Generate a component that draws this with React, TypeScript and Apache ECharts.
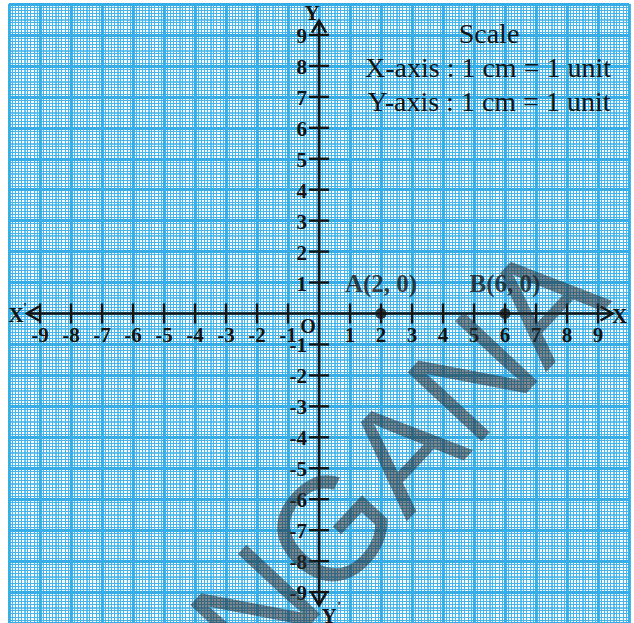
import React, { useEffect, useRef } from 'react';
import * as echarts from 'echarts';

// ---- data ----
const gridMin = -10;
const gridMax = 10;
const xTicks = [-9, -8, -7, -6, -5, -4, -3, -2, -1, 1, 2, 3, 4, 5, 6, 7, 8, 9];
const yTicks = [9, 8, 7, 6, 5, 4, 3, 2, 1, -1, -2, -3, -4, -5, -6, -7, -8, -9];
const xAxisEnds = [-9.42, 9.47];
const yAxisEnds = [-9.42, 9.46];
const pointNames = ['A', 'B'];
const pointX = [2, 6];
const pointY = [0, 0];
const scaleLines = ['Scale', 'X-axis : 1 cm = 1 unit', 'Y-axis : 1 cm = 1 unit'];
const watermarkText = 'NGANA';

const SERIF = '"Liberation Serif", "Times New Roman", serif';
const INK = '#141414';

export default function App() {
  const ref = useRef<HTMLDivElement>(null);
  useEffect(() => {
    if (!ref.current) return;
    const chart = echarts.init(ref.current, undefined, { renderer: 'svg' });

    const fineAxis = (pos: string) => ({
      type: 'value',
      min: gridMin,
      max: gridMax,
      interval: 0.5,
      position: pos,
      axisLine: { show: false },
      axisTick: { show: false },
      axisLabel: { show: false },
      splitLine: { show: true, lineStyle: { color: '#3AB0E8', width: 1.5 } },
      minorTick: { show: false, splitNumber: 5 },
      minorSplitLine: { show: true, lineStyle: { color: '#47B5EA', width: 1.1 } },
      z: 0,
    });
    const majorAxis = (pos: string) => ({
      type: 'value',
      min: gridMin,
      max: gridMax,
      interval: 1,
      position: pos,
      axisLine: { show: false },
      axisTick: { show: false },
      axisLabel: { show: false },
      splitLine: { show: true, lineStyle: { color: '#36ADE6', width: 2.8 } },
      z: 1,
    });

    const tickFont = { fontFamily: SERIF, fontWeight: 'bold', fontSize: 21 } as any;

    const option: any = {
      animation: false,
      backgroundColor: '#ffffff',
      grid: { left: 9, top: 4, width: 620, height: 620 },
      xAxis: [fineAxis('bottom'), majorAxis('top')],
      yAxis: [fineAxis('left'), majorAxis('right')],
      series: [
        {
          type: 'custom',
          name: 'xTicks',
          xAxisIndex: 0,
          yAxisIndex: 0,
          z: 5,
          data: xTicks.map((v) => [v, 0]),
          renderItem: (params: any, api: any) => {
            const p = api.coord([api.value(0), api.value(1)]);
            return {
              type: 'group',
              children: [
                {
                  type: 'line',
                  shape: { x1: p[0], y1: p[1] - 10, x2: p[0], y2: p[1] + 10 },
                  style: { stroke: INK, lineWidth: 2.4 },
                },
                {
                  type: 'text',
                  style: {
                    text: String(api.value(0)),
                    x: p[0],
                    y: p[1] + 21,
                    fill: INK,
                    ...tickFont,
                    align: 'center',
                    verticalAlign: 'middle',
                    textAlign: 'center',
                    textVerticalAlign: 'middle',
                  },
                },
              ],
            };
          },
        },
        {
          type: 'custom',
          name: 'yTicks',
          xAxisIndex: 0,
          yAxisIndex: 0,
          z: 5,
          data: yTicks.map((v) => [0, v]),
          renderItem: (params: any, api: any) => {
            const p = api.coord([api.value(0), api.value(1)]);
            return {
              type: 'group',
              children: [
                {
                  type: 'line',
                  shape: { x1: p[0] - 10, y1: p[1], x2: p[0] + 10, y2: p[1] },
                  style: { stroke: INK, lineWidth: 2.4 },
                },
                {
                  type: 'text',
                  style: {
                    text: String(api.value(1)),
                    x: p[0] - 12,
                    y: p[1] + 1,
                    fill: INK,
                    ...tickFont,
                    align: 'right',
                    verticalAlign: 'middle',
                    textAlign: 'right',
                    textVerticalAlign: 'middle',
                  },
                },
              ],
            };
          },
        },
        {
          type: 'custom',
          name: 'axes',
          xAxisIndex: 0,
          yAxisIndex: 0,
          z: 6,
          data: [[0, 0]],
          renderItem: (params: any, api: any) => {
            const o = api.coord([0, 0]);
            const xl = api.coord([xAxisEnds[0], 0]);
            const xr = api.coord([xAxisEnds[1], 0]);
            const yb = api.coord([0, yAxisEnds[0]]);
            const yt = api.coord([0, yAxisEnds[1]]);
            const st = { stroke: INK, lineWidth: 2.6, fill: 'none' };
            const txt = (text: string, x: number, y: number, size: number, align = 'center') => ({
              type: 'text',
              style: {
                text,
                x,
                y,
                fill: INK,
                fontFamily: SERIF,
                fontWeight: 'bold',
                fontSize: size,
                align,
                verticalAlign: 'middle',
                textAlign: align,
                textVerticalAlign: 'middle',
              },
            });
            return {
              type: 'group',
              children: [
                { type: 'line', shape: { x1: xl[0], y1: xl[1], x2: xr[0], y2: xr[1] }, style: st },
                { type: 'line', shape: { x1: yb[0], y1: yb[1], x2: yt[0], y2: yt[1] }, style: st },
                { type: 'polyline', shape: { points: [[xr[0] - 12, xr[1] - 7], [xr[0], xr[1]], [xr[0] - 12, xr[1] + 7]] }, style: st },
                { type: 'polyline', shape: { points: [[xl[0] + 12, xl[1] - 7], [xl[0], xl[1]], [xl[0] + 12, xl[1] + 7]] }, style: st },
                { type: 'polyline', shape: { points: [[yt[0] - 7, yt[1] + 12], [yt[0], yt[1]], [yt[0] + 7, yt[1] + 12]] }, style: st },
                { type: 'polyline', shape: { points: [[yb[0] - 7, yb[1] - 12], [yb[0], yb[1]], [yb[0] + 7, yb[1] - 12]] }, style: st },
                txt('X', xl[0] - 11, xl[1] + 1, 21),
                txt("'", xl[0] - 2, xl[1] - 7, 13),
                txt('X', xr[0] + 7, xr[1] + 2, 21),
                txt('Y', yt[0] - 7, yt[1] - 8, 21),
                txt('Y', yb[0] + 10, yb[1] + 11, 21),
                txt("'", yb[0] + 20, yb[1] + 0, 13),
                txt('O', o[0] - 11, o[1] + 12, 20),
              ],
            };
          },
        },
        {
          type: 'scatter',
          name: 'points',
          xAxisIndex: 0,
          yAxisIndex: 0,
          z: 7,
          symbol: 'circle',
          symbolSize: 11,
          itemStyle: { color: INK },
          data: pointNames.map((n, i) => ({ name: n, value: [pointX[i], pointY[i]] })),
          label: {
            show: true,
            position: 'top',
            distance: 12,
            color: INK,
            fontFamily: SERIF,
            fontWeight: 'bold',
            fontSize: 25,
            formatter: (p: any) => `${p.name}(${p.value[0]}, ${p.value[1]})`,
          },
        },
      ],
      graphic: [
        {
          type: 'text',
          x: 489,
          y: 33,
          z: 50,
          style: { text: scaleLines[0], fill: INK, fontFamily: SERIF, fontSize: 28, align: 'center', verticalAlign: 'middle', textAlign: 'center', textVerticalAlign: 'middle' },
        },
        {
          type: 'text',
          x: 488,
          y: 67,
          z: 50,
          style: { text: scaleLines[1], fill: INK, fontFamily: SERIF, fontSize: 28, align: 'center', verticalAlign: 'middle', textAlign: 'center', textVerticalAlign: 'middle' },
        },
        {
          type: 'text',
          x: 489,
          y: 101,
          z: 50,
          style: { text: scaleLines[2], fill: INK, fontFamily: SERIF, fontSize: 28, align: 'center', verticalAlign: 'middle', textAlign: 'center', textVerticalAlign: 'middle' },
        },
        {
          type: 'text',
          x: 397,
          y: 457,
          rotation: (47 * Math.PI) / 180,
          z: 100,
          style: {
            text: watermarkText,
            fill: 'rgba(40,45,50,0.56)',
            fontFamily: '"Liberation Sans", Arial, sans-serif',
            fontSize: 147,
            align: 'center',
            verticalAlign: 'middle',
            textAlign: 'center',
            textVerticalAlign: 'middle',
          },
        },
      ],
    };
    chart.setOption(option);
    return () => chart.dispose();
  }, []);
  return <div ref={ref} style={{ position: 'absolute', left: 0, top: 0, width: 634, height: 623 }} />;
}
